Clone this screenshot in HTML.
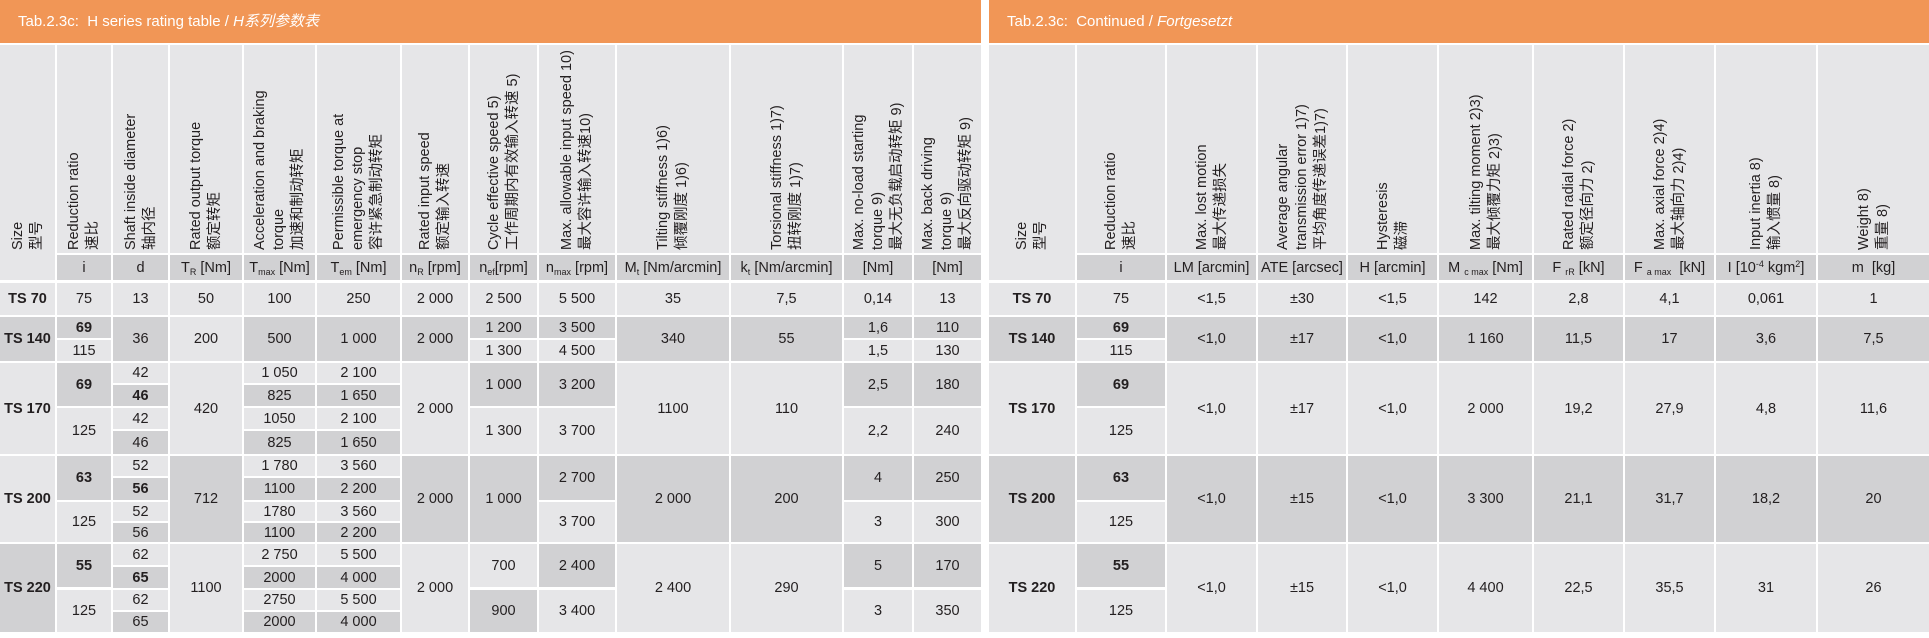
<!DOCTYPE html>
<html><head><meta charset="utf-8">
<style>
body{margin:0;width:1929px;height:638px;background:#fff;position:relative;overflow:hidden;font-family:"Liberation Sans","Noto Sans CJK SC",sans-serif;color:#231f20}
.c{position:absolute;display:flex;align-items:center;justify-content:center;font-size:14.5px;box-sizing:border-box;white-space:nowrap}
.L{background:#e6e6e8}.D{background:#d1d1d3}.b{font-weight:bold}
.o{position:absolute;top:0;height:43px;background:#f19656;color:#fff;font-size:15px;line-height:43px;box-sizing:border-box;padding-left:18px}
.hv{align-items:flex-end;padding-bottom:3px}
.v{writing-mode:vertical-rl;text-orientation:sideways;transform:rotate(180deg);height:204px;text-align:left;line-height:19px;font-size:14.5px}
sub{font-size:9px;vertical-align:-3px;line-height:0}
sup{font-size:9px;vertical-align:5px;line-height:0}
/* left columns */
.a0{left:0;width:55px}.a1{left:57px;width:54px}.a2{left:113px;width:55px}.a3{left:170px;width:72px}.a4{left:244px;width:71px}.a5{left:317px;width:83px}.a6{left:402px;width:66px}.a7{left:470px;width:67px}.a8{left:539px;width:76px}.a9{left:617px;width:112px}.a10{left:731px;width:111px}.a11{left:844px;width:68px}.a12{left:914px;width:67px}
/* right columns */
.b0{left:989px;width:86px}.b1{left:1077px;width:88px}.b2{left:1167px;width:89px}.b3{left:1258px;width:88px}.b4{left:1348px;width:89px}.b5{left:1439px;width:93px}.b6{left:1534px;width:89px}.b7{left:1625px;width:89px}.b8{left:1716px;width:100px}.b9{left:1818px;width:111px}
/* rows */
.h{top:45px;height:208px}.hs{top:45px;height:235px}.u{top:255px;height:25px}
.r1{top:283px;height:32px}
.r2{top:317px;height:44px}.r2a{top:317px;height:21px}.r2b{top:340px;height:21px}
.r3{top:363px;height:91px}.r3a{top:363px;height:43px}.r3b{top:408px;height:46px}
.r3q1{top:363px;height:20px}.r3q2{top:385px;height:21px}.r3q3{top:408px;height:21px}.r3q4{top:431px;height:23px}
.r4{top:456px;height:86px}.r4a{top:456px;height:44px}.r4b{top:502px;height:40px}
.r4q1{top:456px;height:20px}.r4q2{top:478px;height:22px}.r4q3{top:502px;height:19px}.r4q4{top:523px;height:19px}
.r5{top:544px;height:88px}.r5a{top:544px;height:43px}.r5b{top:590px;height:42px}
.r5q1{top:544px;height:21px}.r5q2{top:567px;height:21px}.r5q3{top:590px;height:20px}.r5q4{top:612px;height:20px}
</style></head><body>
<div class="o" style="left:0;width:981px">Tab.2.3c:&nbsp; H series rating table / <i>H系列参数表</i></div>
<div class="o" style="left:989px;width:940px">Tab.2.3c:&nbsp; Continued / <i>Fortgesetzt</i></div>

<!-- LEFT HEADER -->
<div class="c L hv a0 hs" style="padding-bottom:30px"><div class="v" style="height:200px">Size<br>型号</div></div>
<div class="c L hv a1 h"><div class="v">Reduction ratio<br>速比</div></div>
<div class="c L hv a2 h"><div class="v">Shaft inside diameter<br>轴内径</div></div>
<div class="c L hv a3 h"><div class="v">Rated output torque<br>额定转矩</div></div>
<div class="c L hv a4 h"><div class="v">Acceleration and braking<br>torque<br>加速和制动转矩</div></div>
<div class="c L hv a5 h"><div class="v">Permissible torque at<br>emergency stop<br>容许紧急制动转矩</div></div>
<div class="c L hv a6 h"><div class="v">Rated input speed<br>额定输入转速</div></div>
<div class="c L hv a7 h"><div class="v">Cycle effective speed 5)<br>工作周期内有效输入转速 5)</div></div>
<div class="c L hv a8 h"><div class="v">Max. allowable input speed 10)<br>最大容许输入转速10)</div></div>
<div class="c L hv a9 h"><div class="v">Tilting stiffness 1)6)<br>倾覆刚度 1)6)</div></div>
<div class="c L hv a10 h"><div class="v">Torsional stiffness 1)7)<br>扭转刚度 1)7)</div></div>
<div class="c L hv a11 h"><div class="v">Max. no-load starting<br>torque 9)<br>最大无负载启动转矩 9)</div></div>
<div class="c L hv a12 h"><div class="v">Max. back driving<br>torque 9)<br>最大反向驱动转矩 9)</div></div>
<div class="c D a1 u">i</div><div class="c D a2 u">d</div>
<div class="c D a3 u"><span>T<sub>R</sub>&nbsp;[Nm]</span></div><div class="c D a4 u"><span>T<sub>max</sub>&nbsp;[Nm]</span></div>
<div class="c D a5 u"><span>T<sub>em</sub>&nbsp;[Nm]</span></div><div class="c D a6 u"><span>n<sub>R</sub>&nbsp;[rpm]</span></div>
<div class="c D a7 u"><span>n<sub>ef</sub>[rpm]</span></div><div class="c D a8 u"><span>n<sub>max</sub>&nbsp;[rpm]</span></div>
<div class="c D a9 u"><span>M<sub>t</sub>&nbsp;[Nm/arcmin]</span></div><div class="c D a10 u"><span>k<sub>t</sub>&nbsp;[Nm/arcmin]</span></div>
<div class="c D a11 u">[Nm]</div><div class="c D a12 u">[Nm]</div>

<!-- TS70 -->
<div class="c L b a0 r1">TS 70</div><div class="c L a1 r1">75</div><div class="c L a2 r1">13</div><div class="c L a3 r1">50</div><div class="c L a4 r1">100</div><div class="c L a5 r1">250</div><div class="c L a6 r1">2 000</div><div class="c L a7 r1">2 500</div><div class="c L a8 r1">5 500</div><div class="c L a9 r1">35</div><div class="c L a10 r1">7,5</div><div class="c L a11 r1">0,14</div><div class="c L a12 r1">13</div>

<!-- TS140 -->
<div class="c D b a0 r2">TS 140</div>
<div class="c D b a1 r2a">69</div><div class="c L a1 r2b">115</div>
<div class="c D a2 r2">36</div><div class="c L a3 r2">200</div><div class="c D a4 r2">500</div><div class="c D a5 r2">1 000</div><div class="c D a6 r2">2 000</div>
<div class="c D a7 r2a">1 200</div><div class="c L a7 r2b">1 300</div>
<div class="c D a8 r2a">3 500</div><div class="c L a8 r2b">4 500</div>
<div class="c D a9 r2">340</div><div class="c D a10 r2">55</div>
<div class="c D a11 r2a">1,6</div><div class="c L a11 r2b">1,5</div>
<div class="c D a12 r2a">110</div><div class="c L a12 r2b">130</div>

<!-- TS170 -->
<div class="c L b a0 r3">TS 170</div>
<div class="c D b a1 r3a">69</div><div class="c L a1 r3b">125</div>
<div class="c L a2 r3q1">42</div><div class="c D b a2 r3q2">46</div><div class="c L a2 r3q3">42</div><div class="c D a2 r3q4">46</div>
<div class="c L a3 r3">420</div>
<div class="c L a4 r3q1">1 050</div><div class="c D a4 r3q2">825</div><div class="c L a4 r3q3">1050</div><div class="c D a4 r3q4">825</div>
<div class="c L a5 r3q1">2 100</div><div class="c D a5 r3q2">1 650</div><div class="c L a5 r3q3">2 100</div><div class="c D a5 r3q4">1 650</div>
<div class="c L a6 r3">2 000</div>
<div class="c D a7 r3a">1 000</div><div class="c L a7 r3b">1 300</div>
<div class="c D a8 r3a">3 200</div><div class="c L a8 r3b">3 700</div>
<div class="c L a9 r3">1100</div><div class="c L a10 r3">110</div>
<div class="c D a11 r3a">2,5</div><div class="c L a11 r3b">2,2</div>
<div class="c D a12 r3a">180</div><div class="c L a12 r3b">240</div>

<!-- TS200 -->
<div class="c L b a0 r4">TS 200</div>
<div class="c D b a1 r4a">63</div><div class="c L a1 r4b">125</div>
<div class="c L a2 r4q1">52</div><div class="c D b a2 r4q2">56</div><div class="c L a2 r4q3">52</div><div class="c D a2 r4q4">56</div>
<div class="c D a3 r4">712</div>
<div class="c L a4 r4q1">1 780</div><div class="c D a4 r4q2">1100</div><div class="c L a4 r4q3">1780</div><div class="c D a4 r4q4">1100</div>
<div class="c L a5 r4q1">3 560</div><div class="c D a5 r4q2">2 200</div><div class="c L a5 r4q3">3 560</div><div class="c D a5 r4q4">2 200</div>
<div class="c D a6 r4">2 000</div>
<div class="c D a7 r4">1 000</div>
<div class="c D a8 r4a">2 700</div><div class="c L a8 r4b">3 700</div>
<div class="c D a9 r4">2 000</div><div class="c D a10 r4">200</div>
<div class="c D a11 r4a">4</div><div class="c L a11 r4b">3</div>
<div class="c D a12 r4a">250</div><div class="c L a12 r4b">300</div>

<!-- TS220 -->
<div class="c D b a0 r5">TS 220</div>
<div class="c D b a1 r5a">55</div><div class="c L a1 r5b">125</div>
<div class="c L a2 r5q1">62</div><div class="c D b a2 r5q2">65</div><div class="c L a2 r5q3">62</div><div class="c D a2 r5q4">65</div>
<div class="c L a3 r5">1100</div>
<div class="c L a4 r5q1">2 750</div><div class="c D a4 r5q2">2000</div><div class="c L a4 r5q3">2750</div><div class="c D a4 r5q4">2000</div>
<div class="c L a5 r5q1">5 500</div><div class="c D a5 r5q2">4 000</div><div class="c L a5 r5q3">5 500</div><div class="c D a5 r5q4">4 000</div>
<div class="c L a6 r5">2 000</div>
<div class="c L a7 r5a">700</div><div class="c D a7 r5b">900</div>
<div class="c D a8 r5a">2 400</div><div class="c L a8 r5b">3 400</div>
<div class="c L a9 r5">2 400</div><div class="c L a10 r5">290</div>
<div class="c D a11 r5a">5</div><div class="c L a11 r5b">3</div>
<div class="c D a12 r5a">170</div><div class="c L a12 r5b">350</div>

<!-- RIGHT HEADER -->
<div class="c L hv b0 hs" style="padding-bottom:30px"><div class="v" style="height:200px">Size<br>型号</div></div>
<div class="c L hv b1 h"><div class="v">Reduction ratio<br>速比</div></div>
<div class="c L hv b2 h"><div class="v">Max. lost motion<br>最大传递损失</div></div>
<div class="c L hv b3 h"><div class="v">Average angular<br>transmission error 1)7)<br>平均角度传递误差1)7)</div></div>
<div class="c L hv b4 h"><div class="v">Hysteresis<br>磁滞</div></div>
<div class="c L hv b5 h"><div class="v">Max. tilting moment 2)3)<br>最大倾覆力矩 2)3)</div></div>
<div class="c L hv b6 h"><div class="v">Rated radial force 2)<br>额定径向力 2)</div></div>
<div class="c L hv b7 h"><div class="v">Max. axial force 2)4)<br>最大轴向力 2)4)</div></div>
<div class="c L hv b8 h"><div class="v">Input inertia 8)<br>输入惯量 8)</div></div>
<div class="c L hv b9 h"><div class="v">Weight 8)<br>重量 8)</div></div>
<div class="c D b1 u">i</div><div class="c D b2 u">LM [arcmin]</div><div class="c D b3 u">ATE [arcsec]</div><div class="c D b4 u">H [arcmin]</div>
<div class="c D b5 u"><span>M&nbsp;<sub>c max</sub>&nbsp;[Nm]</span></div><div class="c D b6 u"><span>F&nbsp;<sub>rR</sub>&nbsp;[kN]</span></div>
<div class="c D b7 u"><span>F&nbsp;<sub>a max</sub>&nbsp;&nbsp;[kN]</span></div><div class="c D b8 u"><span>I [10<sup>-4</sup>&nbsp;kgm<sup>2</sup>]</span></div><div class="c D b9 u">m&nbsp; [kg]</div>

<div class="c L b b0 r1">TS 70</div><div class="c L b1 r1">75</div><div class="c L b2 r1">&lt;1,5</div><div class="c L b3 r1">±30</div><div class="c L b4 r1">&lt;1,5</div><div class="c L b5 r1">142</div><div class="c L b6 r1">2,8</div><div class="c L b7 r1">4,1</div><div class="c L b8 r1">0,061</div><div class="c L b9 r1">1</div>

<div class="c D b b0 r2">TS 140</div><div class="c D b b1 r2a">69</div><div class="c L b1 r2b">115</div><div class="c D b2 r2">&lt;1,0</div><div class="c D b3 r2">±17</div><div class="c D b4 r2">&lt;1,0</div><div class="c D b5 r2">1 160</div><div class="c D b6 r2">11,5</div><div class="c D b7 r2">17</div><div class="c D b8 r2">3,6</div><div class="c D b9 r2">7,5</div>

<div class="c L b b0 r3">TS 170</div><div class="c D b b1 r3a">69</div><div class="c L b1 r3b">125</div><div class="c L b2 r3">&lt;1,0</div><div class="c L b3 r3">±17</div><div class="c L b4 r3">&lt;1,0</div><div class="c L b5 r3">2 000</div><div class="c L b6 r3">19,2</div><div class="c L b7 r3">27,9</div><div class="c L b8 r3">4,8</div><div class="c L b9 r3">11,6</div>

<div class="c D b b0 r4">TS 200</div><div class="c D b b1 r4a">63</div><div class="c L b1 r4b">125</div><div class="c D b2 r4">&lt;1,0</div><div class="c D b3 r4">±15</div><div class="c D b4 r4">&lt;1,0</div><div class="c D b5 r4">3 300</div><div class="c D b6 r4">21,1</div><div class="c D b7 r4">31,7</div><div class="c D b8 r4">18,2</div><div class="c D b9 r4">20</div>

<div class="c L b b0 r5">TS 220</div><div class="c D b b1 r5a">55</div><div class="c L b1 r5b">125</div><div class="c L b2 r5">&lt;1,0</div><div class="c L b3 r5">±15</div><div class="c L b4 r5">&lt;1,0</div><div class="c L b5 r5">4 400</div><div class="c L b6 r5">22,5</div><div class="c L b7 r5">35,5</div><div class="c L b8 r5">31</div><div class="c L b9 r5">26</div>
</body></html>
